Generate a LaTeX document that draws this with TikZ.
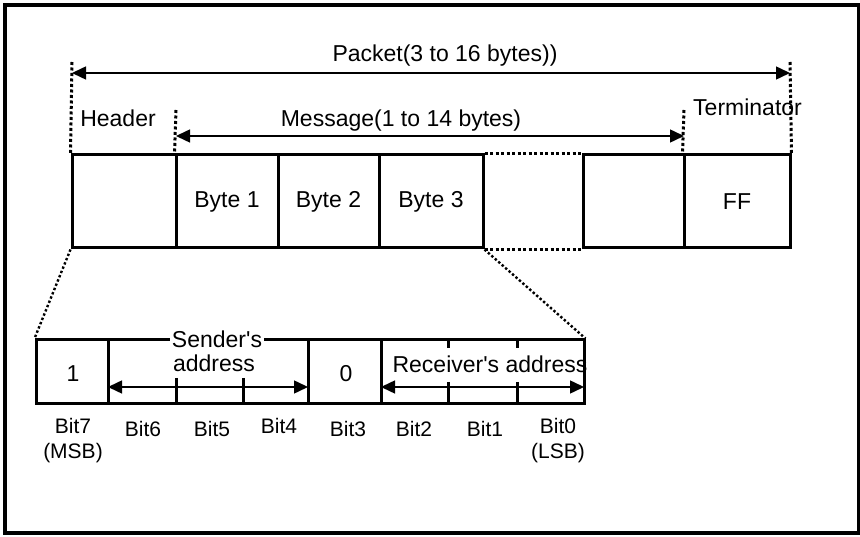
\documentclass[tikz,border=0pt]{standalone}
\usepackage{fontspec}
\setmainfont{Liberation Sans}
\usetikzlibrary{arrows.meta}
\begin{document}
\begin{tikzpicture}[x=1pt,y=-1pt,
  cell/.style={draw, line width=3pt, inner sep=0pt, font=\fontsize{23}{27}\selectfont},
  lbl/.style={inner sep=0pt, font=\fontsize{23}{27}\selectfont},
  bitlbl/.style={inner sep=0pt, font=\fontsize{21}{24}\selectfont},
  arr/.style={line width=1.5pt, {Triangle[length=14pt,width=13pt]}-{Triangle[length=14pt,width=13pt]}},
  dots/.style={line width=3pt, dash pattern=on 3pt off 2.5pt},
  thindots/.style={line width=2.4pt, dash pattern=on 2.4pt off 2.2pt},
  tick/.style={line width=3pt}]
\useasboundingbox (0,0) rectangle (860,537);
\draw[line width=3.5pt] (5,5) rectangle (858.5,533);

% top row cells
\node[cell, minimum width=104pt, minimum height=93pt] (hd) at (124,201.5) {};
\node[cell, minimum width=102pt, minimum height=93pt] (b1) at (227,201.5) {Byte 1};
\node[cell, minimum width=101pt, minimum height=93pt] (b2) at (328.5,201.5) {Byte 2};
\node[cell, minimum width=104pt, minimum height=93pt] (b3) at (431,201.5) {Byte 3};
\node[cell, minimum width=101pt, minimum height=93pt] (bn) at (633.5,201.5) {};
\node[cell, minimum width=106pt, minimum height=93pt] (tm) at (737,201.5) {FF};
\draw[dots] (b3.north east) -- (bn.north west);
\draw[dots] (b3.south east) -- (bn.south west);

% dimension lines
\coordinate (pl) at (72,62);
\coordinate (pr) at (790,62);
\coordinate (ml) at (176,110);
\coordinate (mr) at (684,110);
\draw[dots] (pl) -- (hd.north west);
\draw[dots] (pr) -- (tm.north east);
\draw[dots] (ml) -- (b1.north west);
\draw[dots] (mr) -- (tm.north west);
\coordinate (pa) at (72,73);
\coordinate (pb) at (790,73);
\coordinate (ma) at (176,136);
\coordinate (mb) at (684,136);
\draw[arr] (pa) -- (pb);
\draw[arr] (ma) -- (mb);
\node[lbl, anchor=base] (packet) at (445,62) {Packet(3 to 16 bytes))};
\node[lbl, anchor=base] (header) at (118,127) {Header};
\node[lbl, anchor=base] (message) at (401,127) {Message(1 to 14 bytes)};
\node[lbl, anchor=base west] (term) at (693,116) {Terminator};

% bottom row cells
\node[cell, minimum width=72pt, minimum height=64pt] (c7) at (72,372) {};
\node[cell, minimum width=200pt, minimum height=64pt] (snd) at (208,372) {};
\node[cell, minimum width=73pt, minimum height=64pt] (c3) at (344.5,372) {};
\node[cell, minimum width=203pt, minimum height=64pt] (rcv) at (482.5,372) {};
\node[lbl, anchor=base] (one) at (73,382) {1};
\node[lbl, anchor=base] (zero) at (346,382) {0};

% zoom lines
\draw[thindots] (hd.south west) -- (c7.north west);
\draw[thindots] (b3.south east) -- (rcv.north east);

% ticks
\draw[tick] (176,378) -- (176,404);
\draw[tick] (243,378) -- (243,404);
\draw[tick] (448,340) -- (448,348);
\draw[tick] (448,382) -- (448,404);
\draw[tick] (517,340) -- (517,348);
\draw[tick] (517,382) -- (517,404);

% address labels
\node[lbl, anchor=base, fill=white, inner xsep=2pt, inner ysep=1pt] (sname) at (217,348) {Sender\textquotesingle s};
\node[lbl, anchor=base] (saddr) at (214,372) {address};
\node[lbl, anchor=base] (raddr) at (490,373) {Receiver\textquotesingle s address};
\coordinate (sa) at (108,387);
\coordinate (sb) at (308,387);
\coordinate (ra) at (381,387);
\coordinate (rb) at (584,387);
\draw[arr] (sa) -- (sb);
\draw[arr] (ra) -- (rb);

% bit labels
\node[bitlbl, anchor=base] (bit7) at (73,433) {Bit7};
\node[bitlbl, anchor=base] (msb) at (73,458) {(MSB)};
\node[bitlbl, anchor=base] (bit6) at (143,436) {Bit6};
\node[bitlbl, anchor=base] (bit5) at (212,436) {Bit5};
\node[bitlbl, anchor=base] (bit4) at (279,433) {Bit4};
\node[bitlbl, anchor=base] (bit3) at (348,436) {Bit3};
\node[bitlbl, anchor=base] (bit2) at (414,436) {Bit2};
\node[bitlbl, anchor=base] (bit1) at (485,436) {Bit1};
\node[bitlbl, anchor=base] (bit0) at (558,433) {Bit0};
\node[bitlbl, anchor=base] (lsb) at (558,458) {(LSB)};
\end{tikzpicture}
\end{document}
